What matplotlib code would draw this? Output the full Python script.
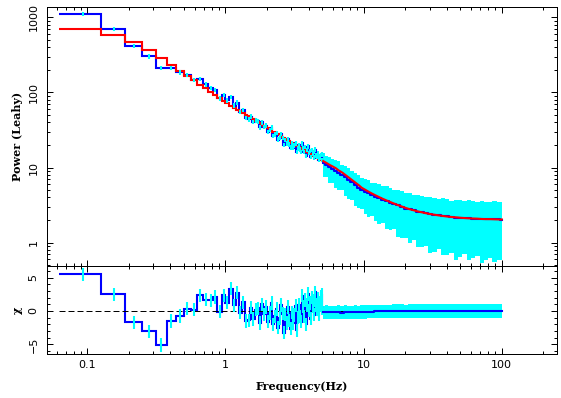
import numpy as np
import matplotlib
matplotlib.use('Agg')
import matplotlib.pyplot as plt
from matplotlib.ticker import MultipleLocator, LogLocator, NullFormatter

DF = 0.0625  # frequency resolution (Hz)

# low frequency bins, 0.0625 - 5.0625 Hz, one value per bin
lf_power = [1110, 702, 417, 303, 211, 211, 185, 170, 147, 152,
            128, 115, 108, 83.4, 92.2, 78.2, 87.3, 66.8, 73.3, 55.0,
            58.4, 45.7, 43.8, 47.6, 40.5, 42.6, 41.5, 34.4, 40.1, 34.7,
            36.1, 30.0, 31.6, 34.1, 26.5, 27.7, 29.0, 23.5, 25.0, 27.9,
            24.7, 20.1, 23.3, 20.9, 23.9, 20.4, 18.4, 21.0, 18.4, 19.6,
            21.1, 16.2, 17.9, 20.0, 17.3, 16.2, 21.0, 18.1, 16.1, 18.8,
            14.3, 17.1, 19.2, 15.6, 16.6, 13.9, 17.2, 15.2, 16.1, 13.6,
            17.3, 14.6, 13.8, 15.3, 12.7, 14.3, 13.6, 14.8, 15.0, 12.7]
lf_model = [696, 579, 467, 369, 286, 233, 195, 166, 145, 127,
            113, 102, 92, 84, 77, 71.4, 66.8, 62.8, 59.2, 56.0,
            53.1, 50.5, 48.1, 45.9, 43.9, 42.0, 40.3, 38.7, 37.3, 35.9,
            34.6, 33.4, 32.3, 31.2, 30.2, 29.3, 28.4, 27.6, 26.8, 26.1,
            25.4, 24.7, 24.1, 23.5, 22.9, 22.4, 21.8, 21.3, 20.8, 20.4,
            19.9, 19.5, 19.1, 18.7, 18.3, 18.0, 17.6, 17.3, 17.0, 16.6,
            16.3, 16.0, 15.8, 15.5, 15.2, 15.0, 14.8, 14.5, 14.3, 14.1,
            13.9, 13.7, 13.5, 13.3, 13.2, 13.0, 12.8, 12.6, 12.5, 12.3]
lf_err = [75, 49, 29.5, 21.5, 14.7, 14.8, 13.0, 11.9, 10.3, 10.6,
          8.9, 8.1, 7.6, 5.8, 6.45, 5.5, 6.1, 4.7, 5.1, 3.85,
          4.1, 3.2, 3.07, 3.33, 2.84, 2.98, 2.9, 2.41, 2.81, 2.43,
          2.53, 2.1, 2.21, 2.39, 1.86, 1.94, 2.03, 1.65, 1.75, 1.95,
          1.73, 1.41, 1.63, 1.46, 1.67, 1.43, 1.29, 1.47, 1.29, 1.37,
          1.48, 1.13, 1.25, 1.4, 1.21, 1.13, 1.47, 1.27, 1.13, 1.32,
          1.0, 1.2, 1.34, 1.09, 1.16, 0.97, 1.2, 1.06, 1.13, 0.95,
          1.21, 1.02, 0.97, 1.07, 0.89, 1.0, 0.95, 1.04, 1.05, 0.89]

# high frequency part, 5 - 100 Hz
hf_freq = [5.1, 5.4, 5.7, 6.0, 6.3, 6.6, 7.0, 7.4, 7.8, 8.2,
           8.7, 9.2, 9.7, 10.3, 10.9, 11.5, 12.2, 13.0, 13.8, 14.7,
           15.6, 16.6, 17.7, 18.9, 20.2, 21.6, 23.1, 24.7, 26.4, 28.3,
           30.3, 32.5, 34.9, 37.5, 40.3, 43.3, 46.5, 50.0, 53.7, 57.7,
           62.0, 66.6, 71.5, 76.8, 82.5, 88.6, 95.2, 100.0]
hf_model = [12.2, 11.5, 10.8, 10.3, 9.8, 9.16, 8.6, 7.95, 7.38, 6.88,
            6.33, 5.85, 5.38, 5.05, 4.76, 4.51, 4.27, 4.03, 3.83, 3.64,
            3.48, 3.32, 3.17, 3.03, 2.90, 2.79, 2.70, 2.61, 2.54, 2.47,
            2.41, 2.36, 2.31, 2.27, 2.23, 2.20, 2.18, 2.15, 2.13, 2.11,
            2.10, 2.09, 2.07, 2.06, 2.06, 2.05, 2.04, 2.04]
hf_power = [11.5, 10.9, 10.1, 9.6, 9.0, 8.6, 7.9, 7.4, 6.8, 6.35,
            5.85, 5.4, 5.0, 4.75, 4.52, 4.30, 4.12, 3.92, 3.75, 3.58,
            3.42, 3.30, 3.14, 3.02, 2.85, 2.78, 2.72, 2.60, 2.55, 2.46,
            2.40, 2.35, 2.32, 2.29, 2.24, 2.19, 2.15, 2.15, 2.14, 2.13,
            2.10, 2.08, 2.05, 2.05, 2.06, 2.07, 2.05, 2.03]
hf_err = [3.9, 3.5, 3.8, 3.3, 3.6, 3.5, 2.9, 3.2, 3.0, 2.6,
          2.75, 2.5, 2.2, 2.35, 2.3, 2.0, 2.2, 2.15, 1.9, 2.05,
          1.95, 1.8, 1.95, 1.85, 1.7, 1.8, 1.62, 1.72, 1.68, 1.55,
          1.66, 1.6, 1.5, 1.6, 1.55, 1.45, 1.56, 1.5, 1.44, 1.55,
          1.48, 1.42, 1.52, 1.47, 1.43, 1.51, 1.46, 1.44]

lf_power = np.array(lf_power)
lf_model = np.array(lf_model)
lf_err = np.array(lf_err)
hf_freq = np.array(hf_freq)
hf_power = np.array(hf_power)
hf_model = np.array(hf_model)
hf_err = np.array(hf_err)

lf_edges = DF * np.arange(1, len(lf_power) + 2)
lf_mid = 0.5 * (lf_edges[:-1] + lf_edges[1:])

# residuals in sigma
lf_chi = (lf_power - lf_model) / lf_err
hf_chi = (hf_power - hf_model) / hf_err

CYAN = '#00ffff'
BLUE = '#0000ff'
RED = '#ff0000'
LW = 1.5

fig = plt.figure(figsize=(5.61, 3.98), dpi=100)
ax1 = fig.add_axes([47 / 561, 1 - 266 / 398, 510 / 561, 259 / 398])
ax2 = fig.add_axes([47 / 561, 1 - 354 / 398, 510 / 561, 88 / 398])

# top panel: power spectrum
ax1.vlines(lf_mid, lf_power - lf_err, lf_power + lf_err, color=CYAN, lw=LW)
ax1.fill_between(hf_freq, hf_power - hf_err, hf_power + hf_err, step='mid',
                 color=CYAN, lw=0)
ax1.stairs(lf_power, lf_edges, baseline=None, color=BLUE, lw=LW)
ax1.plot(hf_freq, hf_power, drawstyle='steps-mid', color=BLUE, lw=LW)
ax1.stairs(lf_model, lf_edges, baseline=None, color=RED, lw=LW)
ax1.plot(hf_freq, hf_model, color=RED, lw=LW)

# bottom panel: residuals
ax2.plot([lf_edges[0], hf_freq[-1]], [0, 0], color='black', lw=0.72,
         dashes=(6, 3))
ax2.vlines(lf_mid, lf_chi - 1, lf_chi + 1, color=CYAN, lw=LW)
ax2.fill_between(hf_freq, hf_chi - 1, hf_chi + 1, step='mid', color=CYAN, lw=0)
ax2.stairs(lf_chi, lf_edges, baseline=None, color=BLUE, lw=LW)
ax2.plot(hf_freq, hf_chi, drawstyle='steps-mid', color=BLUE, lw=LW)

for ax in (ax1, ax2):
    ax.set_xscale('log')
    ax.set_xlim(0.0511, 251)
    ax.tick_params(which='both', direction='in', top=True, right=True,
                   width=0.72, labelsize=8)
    ax.tick_params(which='major', length=4.3)
    ax.tick_params(which='minor', length=2.2)
    for s in ax.spines.values():
        s.set_linewidth(0.72)

ax1.set_yscale('log')
ax1.set_ylim(0.49, 1371)
ax1.set_yticks([1, 10, 100, 1000], ['1', '10', '100', '1000'],
               rotation=90, va='center')
ax1.yaxis.set_minor_locator(LogLocator(subs=np.arange(2, 10)))
ax1.yaxis.set_minor_formatter(NullFormatter())
ax1.set_xticks([0.1, 1, 10, 100])
ax1.tick_params(axis='x', which='both', labelbottom=False)
ax1.tick_params(axis='y', pad=6)

ax2.set_ylim(-6.45, 6.75)
ax2.set_yticks([-5, 0, 5], ['\u22125', '0', '5'], rotation=90, va='center')
ax2.yaxis.set_minor_locator(MultipleLocator(1))
ax2.set_xticks([0.1, 1, 10, 100], ['0.1', '1', '10', '100'])
ax2.xaxis.set_minor_formatter(NullFormatter())
ax2.tick_params(axis='y', pad=6)
ax2.tick_params(axis='x', pad=4)

lab = dict(fontfamily='DejaVu Serif', fontweight='bold', fontsize=8)
ax1.set_ylabel('Power (Leahy)', **lab)
ax1.yaxis.set_label_coords((23 - 47) / 510, 0.5)
ax2.set_ylabel('\u03c7', **lab)
ax2.yaxis.set_label_coords((23 - 47) / 510, 0.5)
ax2.set_xlabel('Frequency(Hz)', **lab)
ax2.xaxis.set_label_coords(0.5, (354 - 381) / 88)

fig.savefig('out.png', dpi=100)
